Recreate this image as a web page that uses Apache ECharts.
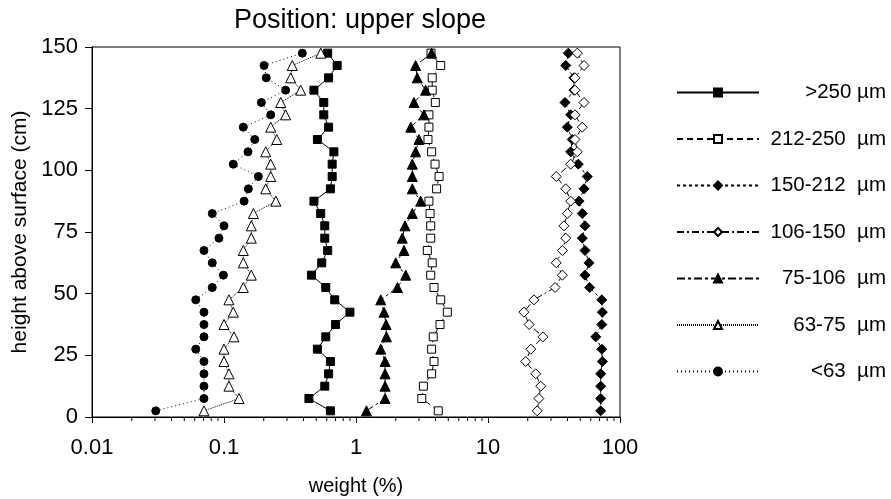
<!DOCTYPE html>
<html lang="en">
<head>
    <meta charset="UTF-8">
    <title>Position: upper slope</title>
    <script src="https://cdn.jsdelivr.net/npm/echarts@6.0.0/dist/echarts.min.js"></script>
    <style>
        html, body { margin: 0; padding: 0; background: #fff; }
        #chart-container { width: 891px; height: 499px; }
    </style>
</head>
<body>
    <div id="chart-container"></div>

    <script>
    // heights above surface (cm), bottom to top
    var heights = [2.5, 7.5, 12.5, 17.5, 22.5, 27.5, 32.5, 37.5, 42.5, 47.5,
                   52.5, 57.5, 62.5, 67.5, 72.5, 77.5, 82.5, 87.5, 92.5, 97.5,
                   102.5, 107.5, 112.5, 117.5, 122.5, 127.5, 132.5, 137.5, 142.5, 147.5];

    // weight (%) per size class, same order as heights
    var over250 = [0.64, 0.44, 0.58, 0.62, 0.64, 0.51, 0.59, 0.70, 0.90, 0.69,
                   0.59, 0.46, 0.55, 0.61, 0.58, 0.58, 0.54, 0.48, 0.64, 0.66,
                   0.66, 0.68, 0.51, 0.62, 0.57, 0.57, 0.48, 0.62, 0.72, 0.61];
    var s212_250 = [4.2, 3.15, 3.24, 3.74, 3.9, 3.74, 3.85, 4.33, 4.92, 4.38,
                    3.9, 3.68, 3.78, 3.47, 3.68, 3.68, 3.64, 3.57, 4.08, 4.26,
                    3.97, 3.74, 3.51, 3.57, 3.57, 3.99, 3.78, 3.78, 4.38, 3.7];
    var s150_212 = [71.4, 71.4, 71.4, 71.4, 73.5, 72.8, 65.5, 72.8, 73.5, 72.8,
                    58.9, 54.3, 58.2, 54.3, 51.8, 54.3, 51.8, 48.9, 53.4, 56.5,
                    48.3, 42.3, 43.5, 39.9, 42.3, 38.3, 44.8, 44.8, 38.8, 40.6];
    var s106_150 = [23.6, 24.3, 25.1, 23.0, 19.3, 21.1, 26.1, 20.5, 18.7, 22.3,
                    32.2, 36.6, 32.9, 36.6, 38.8, 37.6, 39.9, 42.3, 38.8, 32.9,
                    42.3, 47.5, 45.6, 51.8, 45.6, 53.4, 45.6, 45.6, 53.4, 47.5];
    var s75_106 = [1.2, 1.66, 1.66, 1.66, 1.66, 1.54, 1.70, 1.69, 1.63, 1.54,
                   2.06, 2.38, 2.0, 2.31, 2.24, 2.35, 2.67, 3.09, 2.67, 2.67,
                   2.67, 2.83, 3.0, 2.6, 3.27, 2.75, 3.37, 2.91, 2.83, 3.74];
    var s63_75 = [0.0705, 0.13, 0.109, 0.109, 0.1, 0.1, 0.119, 0.1, 0.1175, 0.109,
                  0.14, 0.161, 0.14, 0.14, 0.161, 0.161, 0.167, 0.247, 0.207, 0.226,
                  0.226, 0.207, 0.251, 0.226, 0.293, 0.269, 0.381, 0.32, 0.329, 0.541];
    var under63 = [0.0304, 0.0705, 0.0705, 0.0705, 0.0705, 0.0611, 0.0705, 0.0705, 0.0705, 0.0611,
                   0.0815, 0.0989, 0.0815, 0.0705, 0.0916, 0.1, 0.0815, 0.142, 0.153, 0.182,
                   0.1175, 0.152, 0.171, 0.14, 0.226, 0.192, 0.293, 0.209, 0.201, 0.392];

    var seriesNames = ['>250 \u00b5m', '212-250  \u00b5m', '150-212  \u00b5m', '106-150  \u00b5m',
                       '75-106  \u00b5m', '63-75  \u00b5m', '<63  \u00b5m'];

    // minor ticks on the log axis
    var minorTicks = [0.02, 0.03, 0.04, 0.05, 0.06, 0.07, 0.08, 0.09,
                      0.2, 0.3, 0.4, 0.5, 0.6, 0.7, 0.8, 0.9,
                      2, 3, 4, 5, 6, 7, 8, 9,
                      20, 30, 40, 50, 60, 70, 80, 90];

    var font = 'Liberation Sans, Arial, sans-serif';

    function pairs(values) {
        return values.map(function (v, i) { return [v, heights[i]]; });
    }

    function makeSeries(name, values, symbol, size, filled, dash) {
        return {
            name: name,
            type: 'line',
            data: pairs(values),
            symbol: symbol,
            symbolSize: size,
            showAllSymbol: true,
            lineStyle: { color: '#000', width: 1, type: dash },
            itemStyle: {
                color: filled ? '#000' : '#fff',
                borderColor: '#000',
                borderWidth: 1
            }
        };
    }

    var chart = echarts.init(document.getElementById('chart-container'));

    var option = {
        animation: false,
        backgroundColor: '#fff',
        title: {
            text: 'Position: upper slope',
            left: 355,
            top: 2,
            textAlign: 'center',
            textStyle: { fontFamily: font, fontSize: 27, fontWeight: 'normal', color: '#000' }
        },
        legend: {
            orient: 'vertical',
            left: 671,
            top: 77,
            itemWidth: 82,
            itemHeight: 10,
            itemGap: 25.5,
            data: seriesNames,
            formatter: function (name) { return '{t|' + name + '}'; },
            textStyle: {
                fontFamily: font,
                fontSize: 20.5,
                color: '#000',
                rich: { t: { width: 122, align: 'right', fontFamily: font, fontSize: 20.5 } }
            }
        },
        grid: {
            left: 92,
            right: 271,
            top: 47,
            bottom: 82,
            outerBoundsMode: 'none',
            show: true,
            borderColor: '#000',
            borderWidth: 1
        },
        xAxis: {
            type: 'log',
            logBase: 10,
            min: 0.01,
            max: 100,
            name: 'weight (%)',
            nameLocation: 'middle',
            nameGap: 59,
            nameTextStyle: { fontFamily: font, fontSize: 20, color: '#000' },
            axisLine: { lineStyle: { color: '#000', width: 1 } },
            axisTick: { show: true, inside: false, length: 6, lineStyle: { color: '#000' } },
            axisLabel: {
                fontFamily: font, fontSize: 22, color: '#000', margin: 20,
                formatter: function (v) { return String(+v.toPrecision(3)); }
            },
            splitLine: { show: false }
        },
        yAxis: {
            type: 'value',
            min: 0,
            max: 150,
            interval: 25,
            name: 'height above surface (cm)',
            nameLocation: 'middle',
            nameGap: 60,
            nameTextStyle: { fontFamily: font, fontSize: 21, color: '#000' },
            axisLine: { show: true, lineStyle: { color: '#000', width: 1 } },
            axisTick: { show: true, inside: false, length: 7, lineStyle: { color: '#000' } },
            axisLabel: { fontFamily: font, fontSize: 22, color: '#000', margin: 14 },
            splitLine: { show: false }
        },
        series: [
            makeSeries(seriesNames[0], over250, 'rect', 8, true, 'solid'),
            makeSeries(seriesNames[1], s212_250, 'rect', 8, false, [6, 4]),
            makeSeries(seriesNames[2], s150_212, 'diamond', 10, true, [3, 3]),
            makeSeries(seriesNames[3], s106_150, 'diamond', 10, false, [7, 3, 2, 3]),
            makeSeries(seriesNames[4], s75_106, 'triangle', 10, true, [8, 3, 3, 3]),
            makeSeries(seriesNames[5], s63_75, 'triangle', 10, false, [1, 1]),
            makeSeries(seriesNames[6], under63, 'circle', 8, true, [1, 3]),
            {
                type: 'custom',
                name: 'minor',
                silent: true,
                clip: false,
                data: minorTicks.map(function (v) { return [v, 0]; }),
                renderItem: function (params, api) {
                    var p = api.coord([api.value(0), 0]);
                    return {
                        type: 'line',
                        shape: { x1: p[0], y1: p[1], x2: p[0], y2: p[1] + 4 },
                        style: { stroke: '#000', lineWidth: 1 }
                    };
                }
            }
        ]
    };

    chart.setOption(option);
    </script>
</body>
</html>
